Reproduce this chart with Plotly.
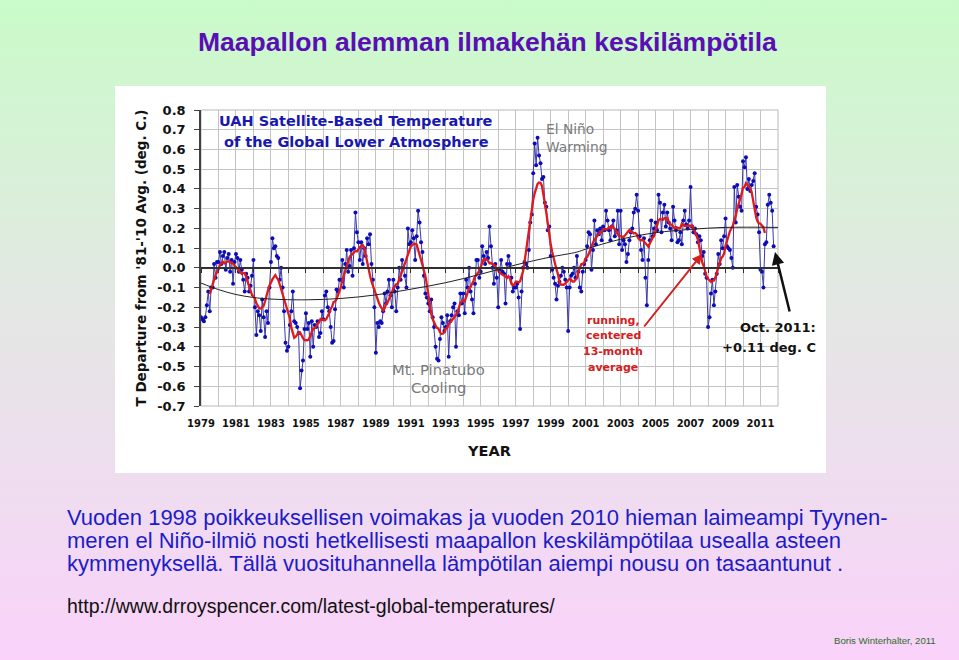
import base64
import pandas as pd
import plotly.graph_objects as go

# ---------------- data ----------------
start_year = 1979
tlt_1979_1988 = [
    -0.25, -0.26, -0.27, -0.25, -0.19, -0.12, -0.22, -0.10, -0.10, 0.02, -0.05, 0.03,
    0.03, 0.08, 0.02, 0.06, 0.08, -0.01, 0.05, 0.07, -0.02, 0.04, -0.08, 0.03,
    0.07, 0.05, -0.02, 0.04, -0.01, -0.06, -0.12, -0.03, -0.05, -0.12, -0.09, -0.04,
    0.04, -0.20, -0.34, -0.22, -0.24, -0.32, -0.16, -0.25, -0.35, -0.22, -0.28, -0.10,
    0.03, 0.15, 0.10, 0.11, 0.06, 0.05, -0.06, 0.00, -0.10, -0.22, -0.38, -0.42,
    -0.40, -0.29, -0.22, -0.12, -0.27, -0.28, -0.30, -0.33, -0.61, -0.52, -0.47, -0.31,
    -0.23, -0.31, -0.28, -0.45, -0.27, -0.40, -0.29, -0.30, -0.27, -0.35, -0.33, -0.22,
    -0.26, -0.14, -0.12, -0.20, -0.22, -0.30, -0.38, -0.37, -0.21, -0.11, -0.12, -0.06,
    -0.06, 0.04, -0.10, 0.02, 0.09, -0.02, 0.01, 0.09, -0.04, 0.10, 0.28, 0.18,
    0.13, 0.04, 0.13, 0.02, 0.10, 0.06, 0.15, 0.12, 0.17, 0.02, -0.06, -0.20,
]
tlt_1989_1998 = [
    -0.43, -0.28, -0.30, -0.27, -0.28, -0.22, -0.13, -0.18, -0.12, -0.06, -0.14, -0.20,
    -0.06, -0.12, -0.22, -0.10, 0.00, -0.06, 0.04, 0.00, -0.04, -0.10, 0.20, 0.12,
    0.13, 0.19, 0.15, 0.04, 0.16, 0.29, 0.23, 0.13, 0.08, -0.04, -0.13, -0.15,
    -0.18, -0.22, -0.16, -0.25, -0.30, -0.40, -0.46, -0.47, -0.36, -0.25, -0.28, -0.32,
    -0.30, -0.24, -0.45, -0.27, -0.24, -0.20, -0.18, -0.40, -0.22, -0.24, -0.13, -0.18,
    -0.13, -0.23, -0.06, -0.10, 0.00, -0.12, -0.16, -0.23, -0.08, 0.04, 0.04, -0.05,
    -0.02, 0.11, 0.06, 0.02, 0.08, 0.05, 0.21, 0.11, 0.00, -0.08, 0.02, -0.05,
    -0.20, -0.01, 0.04, -0.02, -0.03, -0.18, 0.02, 0.06, 0.02, -0.05, -0.12, -0.10,
    -0.10, -0.08, -0.15, -0.31, -0.12, 0.00, 0.03, 0.02, 0.00, 0.09, 0.23, 0.27,
    0.48, 0.63, 0.52, 0.66, 0.57, 0.53, 0.45, 0.46, 0.33, 0.31, 0.19, 0.21,
]
tlt_1999_2008 = [
    0.06, -0.01, -0.05, -0.08, -0.16, -0.09, -0.07, -0.04, 0.00, -0.02, -0.06, -0.10,
    -0.32, -0.10, -0.04, -0.03, 0.00, -0.05, 0.06, -0.02, -0.10, -0.12, -0.02, 0.02,
    0.04, 0.11, 0.18, 0.17, -0.01, 0.09, 0.24, 0.12, 0.19, 0.17, 0.20, 0.14,
    0.21, 0.19, 0.29, 0.24, 0.19, 0.14, 0.21, 0.24, 0.16, 0.19, 0.29, 0.12,
    0.29, 0.09, 0.14, 0.12, 0.03, 0.07, 0.14, 0.18, 0.20, 0.28, 0.30, 0.37,
    0.29, 0.16, 0.09, 0.04, 0.15, -0.05, -0.19, 0.04, 0.14, 0.24, 0.16, 0.20,
    0.23, 0.19, 0.37, 0.33, 0.18, 0.28, 0.32, 0.21, 0.28, 0.23, 0.20, 0.14,
    0.31, 0.24, 0.19, 0.13, 0.14, 0.18, 0.12, 0.24, 0.29, 0.22, 0.20, 0.24,
    0.41, 0.21, 0.18, 0.20, 0.17, 0.13, 0.16, 0.14, 0.06, 0.08, -0.03, -0.05,
    -0.30, -0.25, -0.13, -0.06, -0.19, -0.12, -0.03, 0.07, 0.02, 0.14, 0.10, 0.16,
]
tlt_2009_2011 = [
    0.25, 0.11, 0.10, 0.09, 0.05, 0.00, 0.41, 0.23, 0.42, 0.36, 0.31, 0.29,
    0.54, 0.51, 0.56, 0.40, 0.45, 0.39, 0.42, 0.44, 0.48, 0.31, 0.27, 0.18,
    -0.01, -0.02, -0.10, 0.12, 0.13, 0.32, 0.37, 0.33, 0.29, 0.11,
]

trend_years = [1979, 1980, 1981, 1982, 1983, 1985, 1987, 1989, 1991, 1993, 1995,
               1997, 1999, 2000.5, 2001, 2003, 2005, 2007, 2009, 2012]
trend_values = [-0.077, -0.11, -0.135, -0.15, -0.158, -0.162, -0.155, -0.137, -0.108,
                -0.075, -0.032, 0.015, 0.055, 0.08, 0.095, 0.145, 0.178, 0.195, 0.205, 0.205]

x_tick_years = list(range(1979, 2012, 2))
x_tick_labels = [str(y) for y in x_tick_years]
y_tick_values = [0.8, 0.7, 0.6, 0.5, 0.4, 0.3, 0.2, 0.1, 0.0, -0.1, -0.2, -0.3, -0.4, -0.5, -0.6, -0.7]
y_tick_labels = ["0.8", "0.7", "0.6", "0.5", "0.4", "0.3", "0.2", "0.1", "0.0",
                 "-0.1", "-0.2", "-0.3", "-0.4", "-0.5", "-0.6", "-0.7"]

# ---------------- derived series ----------------
monthly = tlt_1979_1988 + tlt_1989_1998 + tlt_1999_2008 + tlt_2009_2011
t_month = [start_year + i / 12 for i in range(len(monthly))]
running13 = pd.Series(monthly).rolling(13, center=True).mean()

# ---------------- geometry helpers (pixels -> paper) ----------------
W, H = 959, 660
L, T, PW, PH = 201, 110, 577, 296


def px(X):
    return (X - L) / PW


def py(Y):
    return (T + PH - Y) / PH


CH = "DejaVu Sans"
SL = "Liberation Sans"

fig = go.Figure()

fig.add_trace(go.Scatter(
    x=t_month, y=monthly, mode="lines+markers",
    line=dict(color="#3a3aa8", width=1),
    marker=dict(color="#0c0cb8", size=4),
    hoverinfo="x+y", showlegend=False))

fig.add_trace(go.Scatter(
    x=t_month, y=running13, mode="lines",
    line=dict(color="#e01a1a", width=2.3),
    showlegend=False))

fig.add_trace(go.Scatter(
    x=trend_years, y=trend_values, mode="lines", xaxis="x2",
    line=dict(color="#202020", width=1, shape="spline", smoothing=1.0),
    showlegend=False))

# gradient background
svg = ('<svg xmlns="http://www.w3.org/2000/svg" width="959" height="660" preserveAspectRatio="none">'
       '<defs><linearGradient id="g" x1="0" y1="0" x2="0" y2="1">'
       '<stop offset="0" stop-color="#c9fbc9"/><stop offset="0.45" stop-color="#e3e8e3"/>'
       '<stop offset="1" stop-color="#fad2fa"/></linearGradient></defs>'
       '<rect width="959" height="660" fill="url(#g)"/></svg>')
src = "data:image/svg+xml;base64," + base64.b64encode(svg.encode()).decode()

shapes = [
    dict(type="rect", xref="paper", yref="paper", x0=px(115), x1=px(826), y0=py(473), y1=py(86),
         fillcolor="white", line=dict(width=0), layer="below"),
    dict(type="rect", xref="paper", yref="paper", x0=0, x1=1, y0=0, y1=1,
         line=dict(color="#b8b8b8", width=1), layer="below"),
]

annotations = []


def text(x, y, s, size, color, family=CH, weight="bold", xanchor="center"):
    annotations.append(dict(x=px(x), y=py(y), xref="paper", yref="paper", text=s, showarrow=False,
                            xanchor=xanchor, yanchor="middle",
                            font=dict(family=family, size=size, color=color, weight=weight)))


# slide title
text(487, 42, "Maapallon alemman ilmakehän keskilämpötila", 26.5, "#5a0fb5", family=SL)
# chart inner titles
text(356, 121, "UAH Satellite-Based Temperature", 14.5, "#1818b0")
text(356, 142, "of the Global Lower Atmosphere", 14.5, "#1818b0")
text(544, 129, "El Niño", 13.8, "#7a7a7a", weight="normal", xanchor="left")
text(544, 147, "Warming", 13.8, "#7a7a7a", weight="normal", xanchor="left")
text(438, 369, "Mt. Pinatubo", 14.8, "#7a7a7a", weight="normal")
text(438, 387, "Cooling", 14.8, "#7a7a7a", weight="normal")
for i, s in enumerate(["running,", "centered", "13-month", "average"]):
    text(613, 320 + i * 15.7, s, 11, "#d42020")
text(818, 327, "Oct. 2011:", 13, "#111111", xanchor="right")
text(818, 347, "+0.11 deg. C", 13, "#111111", xanchor="right")
text(489, 451, "YEAR", 14.5, "#111111")
annotations.append(dict(x=px(140), y=py(258.5), xref="paper", yref="paper",
                        text="T Departure from '81-'10 Avg. (deg. C.)", textangle=-90,
                        showarrow=False, xanchor="center", yanchor="middle",
                        font=dict(family=CH, size=13.5, color="#111111", weight="bold")))
# arrows
annotations.append(dict(x=px(702), y=py(254), xref="paper", yref="paper", ax=643 - 702, ay=328 - 254,
                        text="", showarrow=True, arrowhead=2, arrowsize=1, arrowwidth=2,
                        arrowcolor="#d42020"))
annotations.append(dict(x=px(775), y=py(252), xref="paper", yref="paper", ax=790 - 775, ay=313 - 252,
                        text="", showarrow=True, arrowhead=2, arrowsize=1, arrowwidth=2.5,
                        arrowcolor="#111111"))
# slide body text
body_blue = "#1c1cc8"
text(65, 517, "Vuoden 1998 poikkeuksellisen voimakas ja vuoden 2010 hieman laimeampi Tyynen-",
     22, body_blue, family=SL, weight="normal", xanchor="left")
text(65, 540, "meren el Niño-ilmiö nosti hetkellisesti maapallon keskilämpötilaa usealla asteen",
     22, body_blue, family=SL, weight="normal", xanchor="left")
text(65, 563, "kymmenyksellä. Tällä vuosituhannella lämpötilan aiempi nousu on tasaantunut .",
     22, body_blue, family=SL, weight="normal", xanchor="left")
text(65, 606, "http://www.drroyspencer.com/latest-global-temperatures/",
     19.5, "#111111", family=SL, weight="normal", xanchor="left")
text(938, 640, "Boris Winterhalter, 2011", 9.6, "#2e6b2e", family=SL, weight="normal", xanchor="right")

fig.update_layout(
    width=W, height=H, autosize=False,
    margin=dict(l=L, r=W - L - PW, t=T, b=H - T - PH, pad=0),
    paper_bgcolor="#e6e9e6", plot_bgcolor="rgba(0,0,0,0)",
    images=[dict(source=src, xref="paper", yref="paper", x=px(0), y=py(0),
                 sizex=W / PW, sizey=H / PH, xanchor="left", yanchor="top",
                 sizing="stretch", layer="below")],
    shapes=shapes, annotations=annotations,
    xaxis=dict(range=[1979, 2012], tickmode="array", tickvals=x_tick_years, ticktext=x_tick_labels,
               showgrid=True, gridcolor="#c4c4c4", gridwidth=1, zeroline=False,
               minor=dict(tick0=1979, dtick=1, showgrid=True, gridcolor="#c4c4c4", gridwidth=1),
               ticks="", showline=False, ticklabelstandoff=10,
               tickfont=dict(family=CH, size=10, color="#111111", weight="bold")),
    xaxis2=dict(range=[1979, 2012], overlaying="x", anchor="free", position=py(268),
                showline=True, linecolor="#303030", linewidth=1.5, ticks="outside", ticklen=4,
                tickcolor="#303030", tickmode="linear", tick0=1979, dtick=1,
                showticklabels=False, showgrid=False, zeroline=False),
    yaxis=dict(range=[-0.7, 0.8], tickmode="array", tickvals=y_tick_values, ticktext=y_tick_labels,
               showgrid=True, gridcolor="#c4c4c4", gridwidth=1, zeroline=False,
               showline=True, linecolor="#404040", linewidth=1.5, ticks="outside", ticklen=5,
               tickcolor="#404040", ticklabelstandoff=6,
               tickfont=dict(family=CH, size=13, color="#111111", weight="bold")),
    hovermode=False,
)

fig.write_html(
    "out.html",
    config={"displayModeBar": False},
    post_script="document.body.style.margin='0';document.body.style.overflow='hidden';",
)
